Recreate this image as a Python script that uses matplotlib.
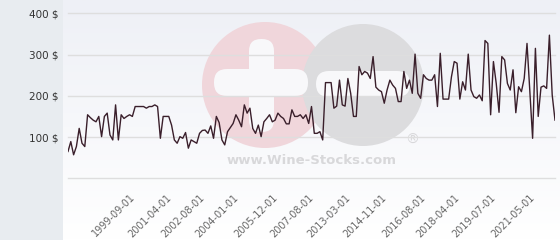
import numpy as np
import matplotlib.pyplot as plt
from matplotlib.colors import LinearSegmentedColormap
from matplotlib.patches import Circle, FancyBboxPatch, Rectangle

prices = [65, 89, 57, 77, 121, 85, 77, 154, 147, 141, 137, 150, 101, 150, 158, 105,
          93, 178, 93, 154, 145, 150, 154, 150, 174, 174, 174, 174, 170, 174, 174, 178,
          174, 97, 150, 150, 150, 129, 93, 85, 101, 97, 111, 73, 93, 89, 85, 109, 116,
          117, 109, 127, 97, 150, 135, 93, 81, 113, 123, 133, 154, 141, 125, 178, 158, 170,
          121, 109, 129, 101, 137, 145, 154, 137, 141, 158, 150, 145, 132, 132, 166, 150,
          150, 154, 145, 154, 133, 174, 109, 109, 113, 93, 232, 232, 232, 170, 175, 238,
          178, 175, 242, 206, 150, 150, 271, 251, 259, 255, 242, 295, 221, 214, 210,
          182, 214, 238, 226, 218, 186, 186, 259, 218, 238, 206, 301, 206, 194, 251, 242,
          238, 238, 251, 174, 303, 192, 192, 192, 246, 283, 279, 192, 234, 214, 301, 214,
          198, 194, 202, 188, 334, 327, 154, 283, 230, 160, 295, 287, 230, 214, 263, 159,
          222, 210, 242, 327, 214, 97, 315, 150, 221, 224, 218, 347, 202, 141]

tick_idx = [22, 35, 47, 59, 73, 86, 99, 112, 126, 138, 151, 165]
tick_labels = ['1999-09-01', '2001-04-01', '2002-08-01', '2004-01-01', '2005-12-01',
               '2007-08-01', '2013-03-01', '2014-11-01', '2016-08-01', '2018-04-01',
               '2019-07-01', '2021-05-01']
y_ticks = [0, 100, 200, 300, 400]
y_labels = ['', '100 $', '200 $', '300 $', '400 $']

W, H = 560, 240
fig = plt.figure(figsize=(W / 100, H / 100), dpi=100, facecolor='white')

# background layer in pixel coords (side panel, gradient, watermark)
bg = fig.add_axes([0, 0, 1, 1], zorder=0)
bg.axis('off')
bg.add_patch(Rectangle((0, 0), 63, H, color='#e8ecf0', lw=0))
grad = np.linspace(0, 1, 100)[:, None]
bg.imshow(grad, extent=(63, W, H, 0), aspect='auto', zorder=0.5,
          cmap=LinearSegmentedColormap.from_list('g', ['#eef0f6', '#ffffff']))
bg.set_xlim(0, W)
bg.set_ylim(H, 0)

# watermark
bg.add_patch(Circle((265, 85), 63, color='#f0d6db', lw=0, zorder=1))
bg.add_patch(Circle((363, 85), 61, color='#dcdcde', lw=0, zorder=1))
white = '#f8f8fa'
bg.add_patch(FancyBboxPatch((249, 39), 25, 93, boxstyle='round,pad=0,rounding_size=12',
                            color=white, lw=0, zorder=2))
bg.add_patch(FancyBboxPatch((214, 69), 94, 27, boxstyle='round,pad=0,rounding_size=13',
                            color=white, lw=0, zorder=2))
bg.add_patch(FancyBboxPatch((316, 71), 94, 26, boxstyle='round,pad=0,rounding_size=13',
                            color=white, lw=0, zorder=2))
bg.text(312, 161, 'www.Wine-Stocks.com', ha='center', va='center', fontsize=9.5,
        fontweight='bold', color='#d8d8da', zorder=2)
bg.text(412, 140, '®', ha='center', va='center', fontsize=10, color='#d8d8da', zorder=2)

ax = fig.add_axes([68 / W, 1 - 178.3 / H, 487 / W, 165 / H], zorder=1)
ax.patch.set_alpha(0)
x = np.arange(len(prices))
ax.plot(x, prices, color='#3a1f2b', lw=1.0, zorder=3)

ax.set_xlim(0, len(prices) - 1)
ax.set_ylim(0, 400)
ax.set_yticks(y_ticks)
ax.set_yticklabels(y_labels)
ax.set_xticks(tick_idx)
ax.set_xticklabels(tick_labels, rotation=45, ha='right', va='top', rotation_mode='anchor')
ax.grid(axis='y', color='#dedede', lw=1)
for gl in ax.get_ygridlines():
    gl.set_clip_on(False)
ax.set_axisbelow(True)
ax.tick_params(axis='y', length=0, pad=6.5, labelsize=7.5, labelcolor='#333333')
ax.tick_params(axis='x', length=0, pad=10, labelsize=7, labelcolor='#666666')
for s in ax.spines.values():
    s.set_visible(False)

fig.savefig('out.png', dpi=100)
